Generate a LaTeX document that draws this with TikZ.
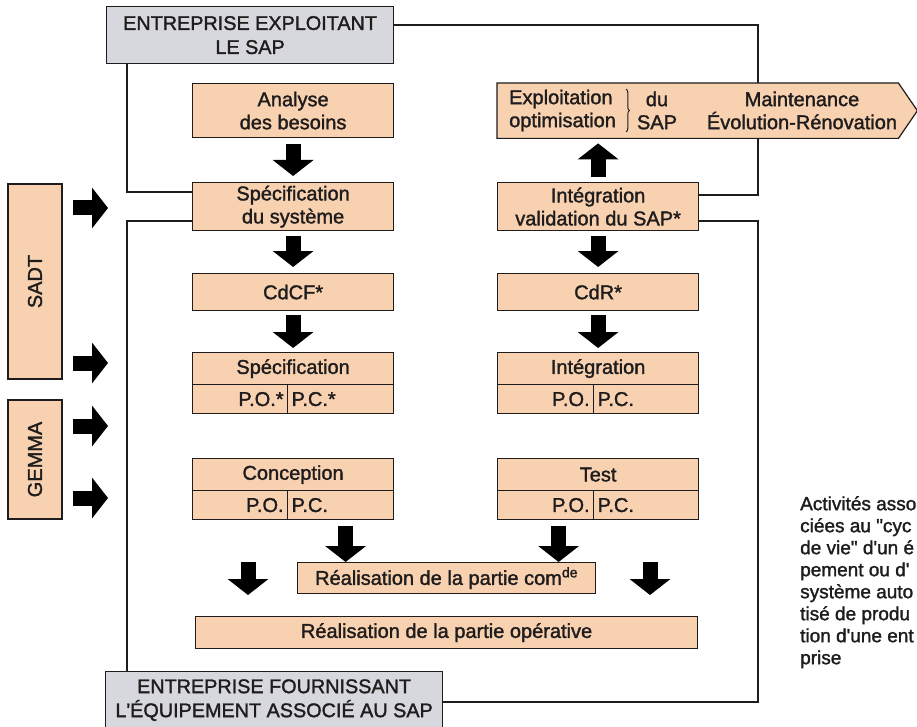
\documentclass[tikz,border=0pt]{standalone}
\usepackage{fontspec}
\setmainfont{Liberation Sans}[FakeBold=1.5]
\usetikzlibrary{arrows.meta,calc,decorations.pathreplacing}
\definecolor{peach}{RGB}{248,209,177}
\definecolor{panelgrey}{RGB}{215,216,221}
\definecolor{ink}{RGB}{30,28,28}
\newcommand\apos{\textquotesingle}
\newcommand\dquo{\textquotedbl}
\pgfdeclarelayer{bg}
\pgfsetlayers{bg,main}

\begin{document}
\begin{tikzpicture}[x=1pt,y=-1pt,
  txt/.style={font=\fontsize{20}{23}\selectfont, text=ink},
  pfill/.style={draw=ink, line width=1.2pt, fill=peach},
  pbox/.style={pfill, inner sep=0pt, align=center, txt},
  gbox/.style={draw=ink, line width=1.2pt, fill=panelgrey, inner sep=0pt, align=center,
               font=\fontsize{19.8}{24}\selectfont, text=ink},
  wire/.style={draw=ink, line width=1.2pt},
  blk/.style={draw=black, line width=15pt, -{Triangle[width=40pt,length=16pt]}},
]
\useasboundingbox (0,0) rectangle (917,727);

% the two companies
\node[gbox, anchor=north west, minimum width=287, minimum height=57] (client) at (106,6)
  {ENTREPRISE EXPLOITANT\\LE SAP};
\node[gbox, anchor=north west, minimum width=337, minimum height=57] (supplier) at (105,671)
  {ENTREPRISE FOURNISSANT\\L\apos ÉQUIPEMENT ASSOCIÉ AU SAP};

% left column: from needs to design
\node[pbox, anchor=north west, minimum width=201, minimum height=54] (besoins) at (192,83) {Analyse\\des besoins};
\node[pbox, anchor=north west, minimum width=201, minimum height=48] (specsys) at (192,182) {Spécification\\du système};
\node[pbox, anchor=north west, minimum width=201, minimum height=37] (cdcf) at (192,273) {CdCF*};
\node[pbox, anchor=north west, minimum width=201, minimum height=32] (spec) at (192,352) {Spécification};
\node[pbox, anchor=north west, minimum width=95, minimum height=29, text width=87, align=right] (specpo) at (192,384) {P.O.*};
\node[pbox, anchor=north west, minimum width=106, minimum height=29, text width=98, align=left] (specpc) at (287,384) {P.C.*};
\node[pbox, anchor=north west, minimum width=201, minimum height=32] (conc) at (192,458) {Conception};
\node[pbox, anchor=north west, minimum width=95, minimum height=29, text width=87, align=right] (concpo) at (192,490) {P.O.};
\node[pbox, anchor=north west, minimum width=106, minimum height=29, text width=98, align=left] (concpc) at (287,490) {P.C.};

% right column: from test to operation
\node[anchor=north west, minimum width=401, minimum height=55, inner sep=0pt] (exploit) at (497,83) {};
\draw[pfill] (exploit.north west) -- (exploit.north east) -- ($(exploit.east)+(19,0)$)
  -- (exploit.south east) -- (exploit.south west) -- cycle;
\node[txt, anchor=west, align=left, inner sep=0pt] (exA) at (509,110.5) {Exploitation\\optimisation};
\draw[ink, line width=1pt, decorate, decoration={brace, amplitude=3.5pt}] (626,89) -- (626,132);
\node[txt, align=center, inner sep=0pt] (exB) at (657,110.5) {du\\SAP};
\node[txt, align=center, inner sep=0pt] (exC) at (802,110.5) {Maintenance\\Évolution-Rénovation};

\node[pbox, anchor=north west, minimum width=201, minimum height=48] (integval) at (497,182) {Intégration\\validation du SAP*};
\node[pbox, anchor=north west, minimum width=201, minimum height=37] (cdr) at (497,273) {CdR*};
\node[pbox, anchor=north west, minimum width=201, minimum height=32] (integ) at (497,352) {Intégration};
\node[pbox, anchor=north west, minimum width=96, minimum height=29, text width=88, align=right] (integpo) at (497,384) {P.O.};
\node[pbox, anchor=north west, minimum width=105, minimum height=29, text width=97, align=left] (integpc) at (593,384) {P.C.};
\node[pbox, anchor=north west, minimum width=201, minimum height=32] (test) at (497,458) {Test};
\node[pbox, anchor=north west, minimum width=96, minimum height=29, text width=88, align=right] (testpo) at (497,490) {P.O.};
\node[pbox, anchor=north west, minimum width=105, minimum height=29, text width=97, align=left] (testpc) at (593,490) {P.C.};

% realisation
\node[pbox, anchor=north west, minimum width=298, minimum height=31] (comde) at (297,562)
  {Réalisation de la partie com\textsuperscript{de}};
\node[pbox, anchor=north west, minimum width=502, minimum height=32] (operative) at (195,616)
  {Réalisation de la partie opérative};

% methods
\node[pbox, rotate=90, minimum width=195, minimum height=54] (sadt) at (35,281.5) {SADT};
\node[pbox, rotate=90, minimum width=119, minimum height=54] (gemma) at (35,459.5) {GEMMA};

% note
\node[anchor=north west, align=left, inner sep=0pt, text=ink,
      font=\fontsize{19}{22}\selectfont] (note) at (800,496)
  {Activités asso\\ciées au \dquo cyc\\de vie\dquo{} d\apos un é\\pement ou d\apos\\système auto\\tisé de produ\\tion d\apos une ent\\prise};

% company links, behind the boxes
\begin{pgfonlayer}{bg}
  \fill[white] (0,0) rectangle (917,727);
  \coordinate (lA) at (127,192);
  \coordinate (lB) at (127,221);
  \coordinate (rT) at (758,25);
  \coordinate (rA) at (758,195);
  \coordinate (rB) at (758,221);
  \coordinate (rC) at (758,702);
  \draw[wire] (client.south -| lA) -- (lA) -- (lA -| specsys.west);
  \draw[wire] (lB -| specsys.west) -- (lB) -- (lB |- supplier.north);
  \draw[wire] (rA -| integval.east) -- (rA) -- (rT) -- (rT -| client.east);
  \draw[wire] (rB -| integval.east) -- (rB) -- (rC) -- (rC -| supplier.east);
\end{pgfonlayer}

% flow arrows
\draw[blk, shorten <=6pt, shorten >=6pt] (besoins) -- (specsys);
\draw[blk, shorten <=5pt, shorten >=6pt] (specsys) -- (cdcf);
\draw[blk, shorten <=4pt, shorten >=4pt] (cdcf) -- (spec);
\draw[blk, shorten <=5pt, shorten >=6pt] (integval) -- (cdr);
\draw[blk, shorten <=4pt, shorten >=4pt] (cdr) -- (integ);
\draw[blk, shorten <=5pt, shorten >=5pt] (integval.north) -- (integval.north |- exploit.south);

\coordinate (c1) at ($(concpc.south)+(5,0)$);
\coordinate (c2) at ($(testpo.south)+(13,0)$);
\draw[blk, shorten <=6pt] (c1) -- (c1 |- comde.north);
\draw[blk, shorten <=6pt] (c2) -- (c2 |- comde.north);
\coordinate (f1) at (248,562);
\coordinate (f2) at (650,562);
\draw[blk, shorten >=21pt] (f1) -- (f1 |- operative.north);
\draw[blk, shorten >=21pt] (f2) -- (f2 |- operative.north);

% method arrows
\foreach \yy/\n in {208/1,363/2,426/3,498/4}{
  \coordinate (sa\n) at (73,\yy);
  \coordinate (sb\n) at (108,\yy);
  \draw[blk] (sa\n) -- (sb\n);
}
\end{tikzpicture}
\end{document}
